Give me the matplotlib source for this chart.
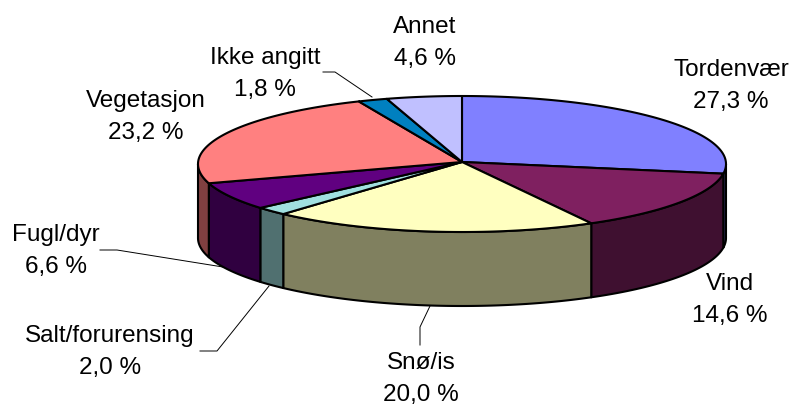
import numpy as np
import matplotlib
matplotlib.use("Agg")
import matplotlib.pyplot as plt

categories = ["Tordenvær", "Vind", "Snø/is", "Salt/forurensing", "Fugl/dyr",
              "Vegetasjon", "Ikke angitt", "Annet"]
values = [27.3, 14.6, 20.0, 2.0, 6.6, 23.2, 1.8, 4.6]
value_labels = ["27,3 %", "14,6 %", "20,0 %", "2,0 %", "6,6 %", "23,2 %", "1,8 %", "4,6 %"]
top_colors = ["#8080FF", "#7F2060", "#FFFFC0", "#A0E0E0", "#600080", "#FF8080", "#0080C0", "#C0C0FF"]
side_colors = ["#40407F", "#3F1030", "#80805F", "#507070", "#300040", "#804040", "#004060", "#60607F"]
label_pos = [(731, 86), (730, 300), (421, 379), (110, 352), (56, 251), (146, 117), (265, 74), (425, 43)]
leaders = [
    None, None,
    [(420, 345), (420, 327), (430, 306)],
    [(200, 351), (217, 351), (269, 286)],
    [(100, 250), (117, 250), (223, 267)],
    None,
    [(323, 72), (335, 72), (372, 97)],
    None,
]

CX, APEX_Y, RIM_Y, RX, RY, DEPTH = 462, 162, 164, 264, 68, 74
EDGE = 1.5

fig = plt.figure(figsize=(7.92, 4.05), dpi=100, facecolor="white")
ax = fig.add_axes([0, 0, 1, 1])
ax.set_xlim(0, 792)
ax.set_ylim(405, 0)
ax.axis("off")

def rim(a0, a1):
    t = np.radians(np.linspace(a0, a1, max(int(abs(a1 - a0) * 2), 2)))
    return CX + RX * np.sin(t), RIM_Y - RY * np.cos(t)

edges = 360 * np.cumsum([0] + values) / sum(values)

# outer side walls: only the front half of the rim (90..270 degrees) is visible
for i in range(len(values)):
    a0, a1 = max(edges[i], 90), min(edges[i + 1], 270)
    if a1 <= a0:
        continue
    x, y = rim(a0, a1)
    ax.fill(np.r_[x, x[::-1]], np.r_[y, y[::-1] + DEPTH],
            facecolor=side_colors[i], edgecolor="black", lw=EDGE, joinstyle="round", zorder=2)

# top faces
for i in range(len(values)):
    x, y = rim(edges[i], edges[i + 1])
    ax.fill(np.r_[CX, x], np.r_[APEX_Y, y],
            facecolor=top_colors[i], edgecolor="black", lw=EDGE, joinstyle="round", zorder=3)

for i, name in enumerate(categories):
    ax.text(*label_pos[i], f"{name}\n{value_labels[i]}", ha="center", va="center",
            family="Liberation Sans", fontsize=17.5, linespacing=1.6, color="black", zorder=5)
    if leaders[i]:
        xs, ys = zip(*leaders[i])
        ax.plot(xs, ys, color="black", lw=0.7, zorder=1)

fig.savefig("out.png", dpi=100)
